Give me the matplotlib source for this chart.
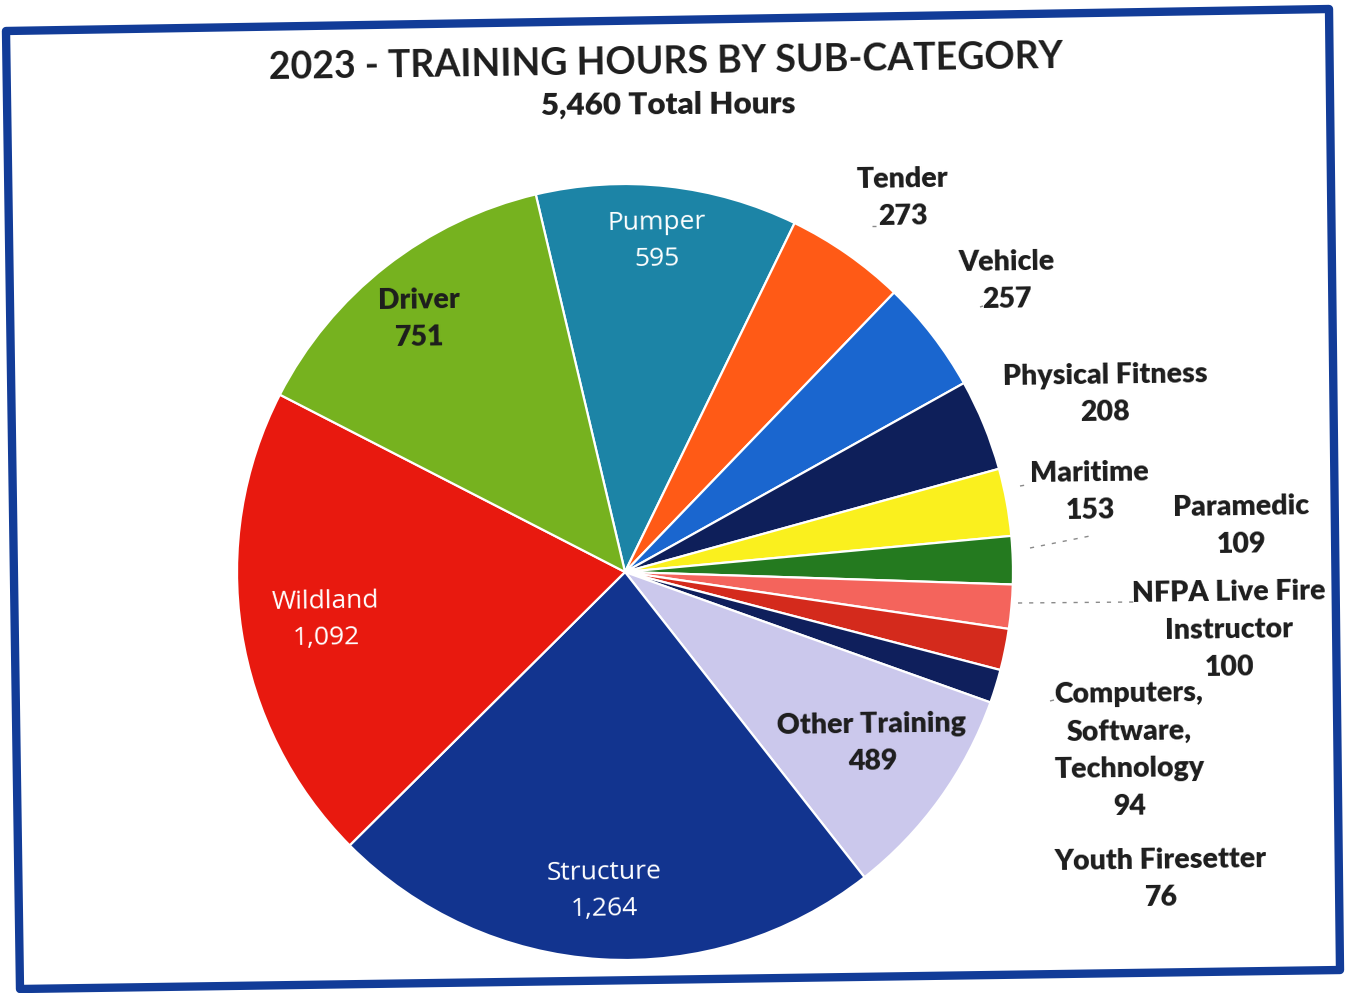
import matplotlib.pyplot as plt
from matplotlib.patches import Polygon

# training hours, clockwise from the top of the pie
categories = ["Pumper", "Tender", "Vehicle", "Physical Fitness", "Maritime",
              "Paramedic", "NFPA Live Fire\nInstructor",
              "Computers,\nSoftware,\nTechnology", "Youth Firesetter",
              "Other Training", "Structure", "Wildland", "Driver"]
hours = [595, 273, 257, 208, 153, 109, 100, 94, 76, 489, 1264, 1092, 751]
colors = ["#1c84a6", "#ff5a16", "#1a66cf", "#0e1f5a", "#faf01e", "#247a1f",
          "#f4645c", "#d42a1c", "#0f1f5c", "#cbc8ec", "#12348f", "#e8190f",
          "#76b21f"]

# label centres in pixels (x from left, y from top) and style
label_pos = [(657, 241), (903, 198), (1007, 281), (1105, 394), (1090, 492),
             (1241, 526), (1229, 630), (1129, 750), (1161, 879),
             (872, 743), (604, 891), (326, 620), (419, 319)]
white_labels = {"Pumper", "Structure", "Wildland"}

W, H = 1347, 993
ROT = 0.8  # the page is slightly tilted

fig = plt.figure(figsize=(W / 100, H / 100), dpi=100)
ax = fig.add_axes([0, 0, 1, 1])

cx, cy, r = 625, H - 572, 388
ax.pie(hours, colors=colors, startangle=103.3, counterclock=False,
       center=(cx, cy), radius=r,
       wedgeprops=dict(edgecolor="white", linewidth=1.6))
ax.set_xlim(0, W)
ax.set_ylim(0, H)
ax.set_aspect("equal")
ax.axis("off")

for name, val, (x, y) in zip(categories, hours, label_pos):
    txt = f"{name}\n{val:,}"
    if name in white_labels:
        ax.text(x, H - y, txt, ha="center", va="center", color="white",
                fontsize=19, family="Open Sans", linespacing=1.6,
                rotation=ROT)
    else:
        ax.text(x, H - y, txt, ha="center", va="center", color="#1d1d1d",
                fontsize=20.5, family="Lato", fontweight="heavy",
                linespacing=1.55, rotation=ROT)

# faint leader marks next to the outside labels
leaders = [((872, 226), (876, 226)), ((980, 307), (983, 306)),
           ((1020, 486), (1026, 485)), ((1030, 548), (1095, 535)),
           ((1018, 603), (1135, 602)), ((1050, 701), (1054, 700))]
for (x0, y0), (x1, y1) in leaders:
    ax.plot([x0, x1], [H - y0, H - y1], color="#8a8a8a", lw=1.0,
            ls=(0, (3, 5)), solid_capstyle="butt")

ax.text(666, H - 62, "2023 - TRAINING HOURS BY SUB-CATEGORY", ha="center",
        va="center", fontsize=27, family="Lato", fontweight="bold",
        color="#1d1d1d", rotation=ROT)
ax.text(668, H - 105, "5,460 Total Hours", ha="center", va="center",
        fontsize=22.5, family="Lato", fontweight="heavy", color="#1d1d1d",
        rotation=ROT * 0.5)

# blue border round the chart
frame = [(6, 31), (1329, 9), (1340, 970), (20, 989)]
ax.add_patch(Polygon([(x, H - y) for x, y in frame], closed=True,
                     fill=False, edgecolor="#123c98", lw=6,
                     joinstyle="round"))

fig.savefig("out.png", dpi=100, facecolor="white")
